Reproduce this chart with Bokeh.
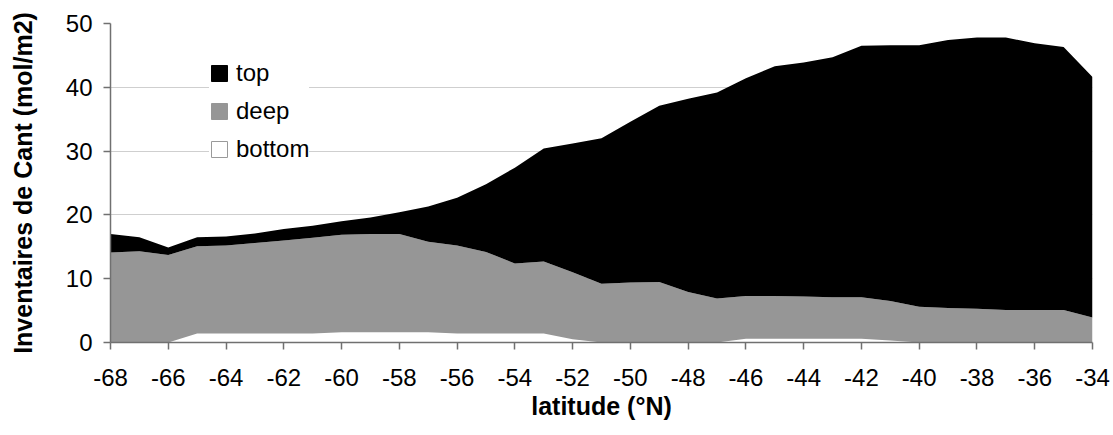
from bokeh.plotting import figure
from bokeh.models import (ColumnDataSource, Range1d, FixedTicker, Legend, LegendItem,
                          NumeralTickFormatter)
from bokeh.embed import file_html
from bokeh.resources import INLINE

# ---- data ----
latitude = [-68, -67, -66, -65, -64, -63, -62, -61, -60, -59, -58, -57, -56, -55, -54,
            -53, -52, -51, -50, -49, -48, -47, -46, -45, -44, -43, -42, -41, -40, -39,
            -38, -37, -36, -35, -34]
bottom = [0.0, 0.0, 0.0, 1.4, 1.4, 1.4, 1.4, 1.4, 1.6, 1.6, 1.6, 1.6, 1.4, 1.4, 1.4,
          1.4, 0.5, 0.0, 0.0, 0.0, 0.0, 0.0, 0.6, 0.6, 0.6, 0.6, 0.6, 0.3, 0.0, 0.0,
          0.0, 0.0, 0.0, 0.0, 0.0]
deep = [14.1, 14.3, 13.7, 13.7, 13.8, 14.2, 14.6, 15.0, 15.3, 15.4, 15.4, 14.2, 13.8, 12.8, 11.0,
        11.3, 10.5, 9.2, 9.4, 9.5, 7.9, 6.9, 6.7, 6.7, 6.6, 6.5, 6.5, 6.2, 5.6, 5.4,
        5.3, 5.1, 5.1, 5.1, 3.9]
top = [2.9, 2.2, 1.2, 1.4, 1.4, 1.5, 1.8, 1.9, 2.1, 2.6, 3.4, 5.5, 7.5, 10.6, 15.0,
       17.7, 20.2, 22.8, 25.2, 27.6, 30.3, 32.3, 34.1, 36.0, 36.7, 37.6, 39.4, 40.1, 41.0, 42.0,
       42.5, 42.7, 41.8, 41.2, 37.7]
series_names = ["top", "deep", "bottom"]
x_ticks = list(range(-68, -33, 2))
y_ticks = [0, 10, 20, 30, 40, 50]

GRAY = "#969696"
FONT = "Liberation Sans"
NAN = float("nan")

source = ColumnDataSource(dict(lat=latitude, bottom=bottom, deep=deep, top=top))

p = figure(width=1113, height=435, x_range=Range1d(-68, -34), y_range=Range1d(0, 50),
           output_backend="svg", toolbar_location=None,
           min_border_left=110, min_border_right=21, min_border_top=23, min_border_bottom=93)

p.varea_stack(stackers=["bottom", "deep", "top"], x="lat", color=["white", GRAY, "black"],
              source=source)

# legend swatches (one NaN row each, so nothing is drawn in the plot)
def swatch(fill, line):
    src = ColumnDataSource(dict(l=[NAN], r=[NAN], b=[NAN], t=[NAN]))
    return p.quad(left="l", right="r", bottom="b", top="t", source=src,
                  fill_color=fill, line_color=line, line_width=1)

r_top = swatch("black", "black")
r_deep = swatch(GRAY, GRAY)
r_bot = swatch("white", "#9a9a9a")

legend = Legend(items=[LegendItem(label=series_names[0], renderers=[r_top]),
                       LegendItem(label=series_names[1], renderers=[r_deep]),
                       LegendItem(label=series_names[2], renderers=[r_bot])],
                location=(99, 178), margin=0, padding=17, spacing=8,
                glyph_width=20, glyph_height=20, label_height=30, label_standoff=7,
                label_text_font=FONT, label_text_font_size="24px", label_text_color="black",
                background_fill_color="white", background_fill_alpha=1.0,
                border_line_color=None)
p.add_layout(legend, "center")

p.outline_line_color = None
p.xgrid.visible = False
p.ygrid.ticker = FixedTicker(ticks=y_ticks)
p.ygrid.grid_line_color = "#cfcfcf"
p.ygrid.grid_line_width = 1

for ax in (p.xaxis[0], p.yaxis[0]):
    ax.axis_line_color = "#707070"
    ax.axis_line_width = 1.5
    ax.major_tick_line_color = "#707070"
    ax.major_tick_line_width = 1.5
    ax.major_tick_in = 0
    ax.major_tick_out = 7
    ax.minor_tick_line_color = None
    ax.major_label_text_font = FONT
    ax.major_label_text_font_size = "24px"
    ax.major_label_text_color = "black"
    ax.axis_label_text_font = FONT
    ax.axis_label_text_font_size = "25px"
    ax.axis_label_text_font_style = "bold"
    ax.axis_label_text_color = "black"
    ax.formatter = NumeralTickFormatter(format="0")

p.xaxis.ticker = FixedTicker(ticks=x_ticks)
p.yaxis.ticker = FixedTicker(ticks=y_ticks)
p.xaxis.axis_label = "latitude (°N)"
p.yaxis.axis_label = "Inventaires de Cant (mol/m2)"
p.xaxis.major_label_standoff = 19
p.xaxis.axis_label_standoff = 3
p.yaxis.major_label_standoff = 11
p.yaxis.axis_label_standoff = 26

open("out.html", "w").write(file_html(p, INLINE))
